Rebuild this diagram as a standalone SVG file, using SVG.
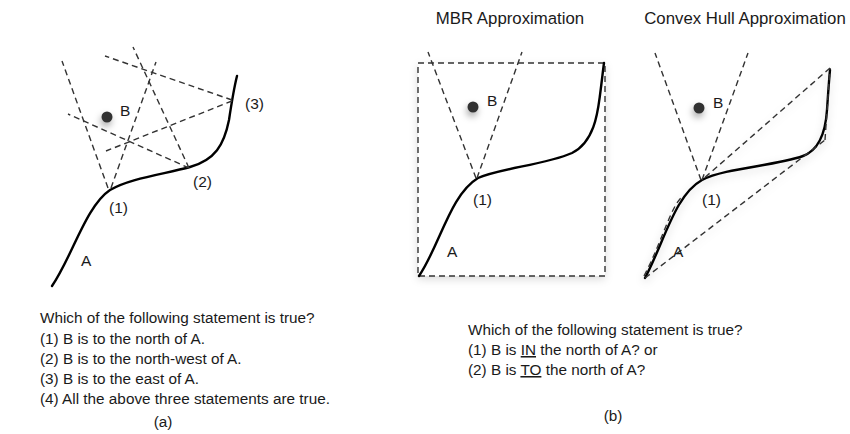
<svg xmlns="http://www.w3.org/2000/svg" width="850" height="434" viewBox="0 0 850 434">
<defs>
<style>
text{font-family:"Liberation Sans",Arial,Helvetica,sans-serif;fill:#1a1a1a}
.lbl{font-size:15.5px}
.body{font-size:15.3px}
.title{font-size:16.8px}
.curve{fill:none;stroke:#000;stroke-width:2.4;stroke-linecap:round}
.dash{fill:none;stroke:#333;stroke-width:1.4;stroke-dasharray:6 4}
.dot{fill:#333;filter:url(#dotsh)}
</style>
<filter id="dotsh" x="-200%" y="-200%" width="500%" height="500%">
<feDropShadow dx="-1" dy="4" stdDeviation="3.5" flood-color="#000" flood-opacity="0.35"/>
</filter>
<filter id="boxsh" x="-10%" y="-10%" width="120%" height="120%">
<feDropShadow dx="0" dy="3" stdDeviation="4" flood-color="#000" flood-opacity="0.15"/>
</filter>
</defs>
<rect width="850" height="434" fill="#fff"/>

<!-- Panel (a) -->
<g id="curveA_a">
<path class="curve" d="M52,286 C72,257 86,206 110,190 C130,178 165,174 190,167 C215,160 224,145 229,120 C232,100 234,88 237,76"/>
</g>
<g id="connectors_a">
<line class="dash" x1="108" y1="188" x2="62" y2="61"/>
<line class="dash" x1="111" y1="188" x2="156" y2="62"/>
<line class="dash" x1="189" y1="168" x2="133" y2="47"/>
<line class="dash" x1="189" y1="168" x2="68" y2="114"/>
<line class="dash" x1="232" y1="100" x2="105" y2="56"/>
<line class="dash" x1="232" y1="101" x2="106" y2="151"/>
</g>
<g id="pointB_a">
<circle class="dot" cx="107" cy="117" r="5.5"/>
<text class="lbl" x="120" y="116">B</text>
</g>
<g id="labels_a">
<text class="lbl" x="109" y="213">(1)</text>
<text class="lbl" x="193" y="187">(2)</text>
<text class="lbl" x="245" y="109">(3)</text>
<text class="lbl" x="81" y="266">A</text>
</g>
<g id="question_a">
<text class="body" x="40" y="323">Which of the following statement is true?</text>
<text class="body" x="40" y="344">(1) B is to the north of A.</text>
<text class="body" x="40" y="364">(2) B is to the north-west of A.</text>
<text class="body" x="40" y="384">(3) B is to the east of A.</text>
<text class="body" x="40" y="404">(4) All the above three statements are true.</text>
<text class="body" x="163" y="427" text-anchor="middle">(a)</text>
</g>

<!-- Panel (b) MBR -->
<text class="title" x="510" y="24" text-anchor="middle">MBR Approximation</text>
<g id="mbr">
<rect x="418" y="63" width="187" height="213" fill="#fff" filter="url(#boxsh)"/>
<rect class="dash" x="418" y="63" width="187" height="213"/>
<path class="curve" d="M419,276 C440,245 450,195 478,178 C500,168 545,165 572,153 C595,142 598,110 600,95 C602,80 603,70 604,63"/>
</g>
<g id="connectors_mbr">
<line class="dash" x1="476" y1="178" x2="428" y2="52"/>
<line class="dash" x1="477" y1="178" x2="522" y2="52"/>
</g>
<g id="pointB_mbr">
<circle class="dot" cx="473" cy="107" r="5.5"/>
<text class="lbl" x="487" y="106">B</text>
</g>
<g id="labels_mbr">
<text class="lbl" x="473" y="205">(1)</text>
<text class="lbl" x="447" y="257">A</text>
</g>

<!-- Panel (b) Convex hull -->
<text class="title" x="745" y="24" text-anchor="middle">Convex Hull Approximation</text>
<g id="hull" filter="url(#boxsh)">
<path class="curve" d="M645,278 C665,240 675,195 702,180 C725,168 775,166 803,156 C822,149 826,125 827,110 C828,95 829,80 830,70"/>
<path class="dash" d="M644,276 C662,242 671,205 683,196"/>
<line class="dash" x1="645" y1="278" x2="825" y2="140"/>
<line class="dash" x1="825" y1="140" x2="830" y2="68"/>
<line class="dash" x1="830" y1="68" x2="702" y2="180"/>
</g>
<g id="connectors_hull">
<line class="dash" x1="701" y1="180" x2="655" y2="53"/>
<line class="dash" x1="702" y1="180" x2="748" y2="53"/>
</g>
<g id="pointB_hull">
<circle class="dot" cx="699" cy="108" r="5.5"/>
<text class="lbl" x="713" y="108">B</text>
</g>
<g id="labels_hull">
<text class="lbl" x="702" y="205">(1)</text>
<text class="lbl" x="673" y="257">A</text>
</g>

<g id="question_b">
<text class="body" x="468" y="335">Which of the following statement is true?</text>
<text class="body" x="468" y="355">(1) B is <tspan text-decoration="underline">IN</tspan> the north of A? or</text>
<text class="body" x="468" y="375">(2) B is <tspan text-decoration="underline">TO</tspan> the north of A?</text>
<text class="body" x="613" y="421" text-anchor="middle">(b)</text>
</g>
</svg>
